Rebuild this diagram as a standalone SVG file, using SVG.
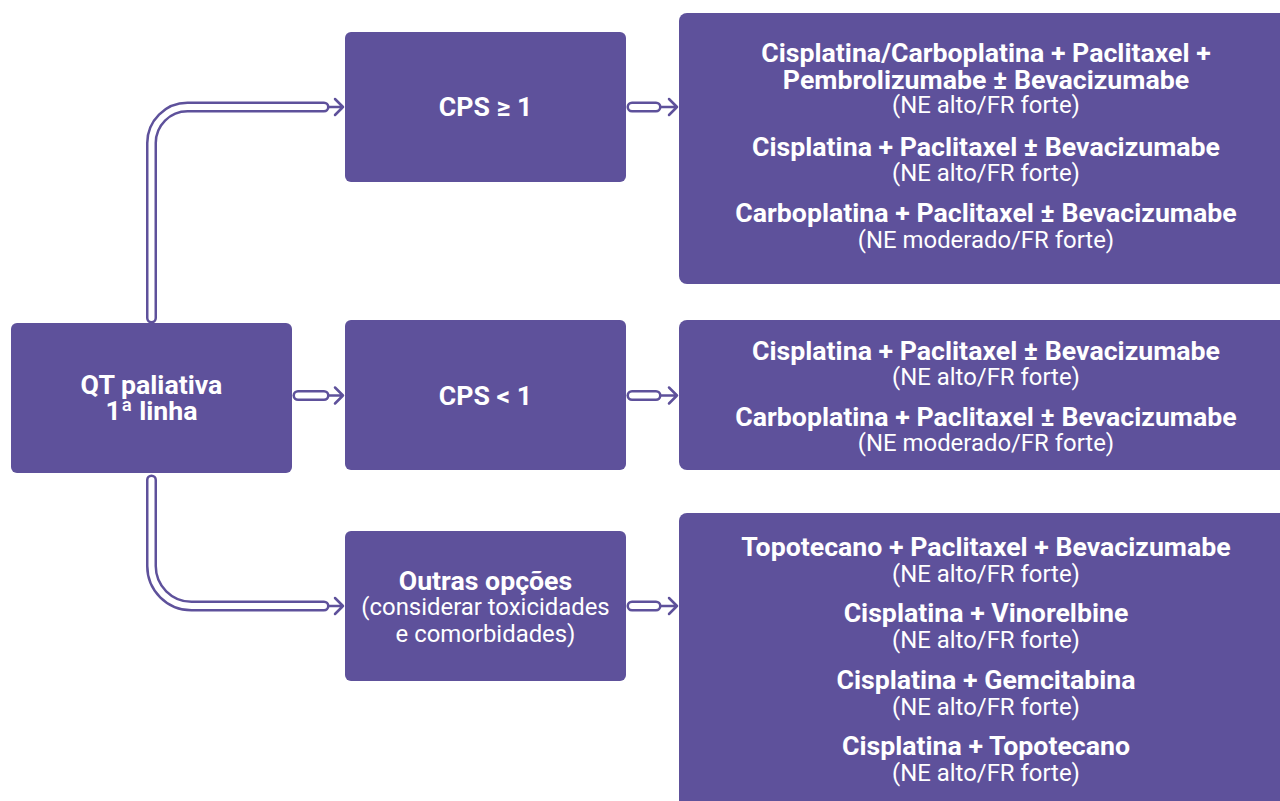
<svg xmlns="http://www.w3.org/2000/svg" width="1280" height="801" viewBox="0 0 1280 801">
<style>
.box{fill:#5e519b}
.b{font-family:Roboto,"Liberation Sans",sans-serif;font-weight:bold;font-size:26.7px;fill:#fff;text-anchor:middle}
.r{font-family:Roboto,"Liberation Sans",sans-serif;font-size:23.9px;fill:#fff;text-anchor:middle}
.tubeo{fill:none;stroke:#5e519b;stroke-width:11;stroke-linecap:round;stroke-linejoin:round}
.tubei{fill:none;stroke:#fff;stroke-width:6;stroke-linecap:round;stroke-linejoin:round}
.arr{fill:none;stroke:#5e519b;stroke-width:2.5;stroke-linecap:round;stroke-linejoin:round}
</style>
<rect width="1280" height="801" fill="#fff"/>
<g id="connectors">
<g id="c1"><path class="tubeo" d="M151.5,318 V143 A36,36 0 0 1 187.5,107 H324"/><path class="tubei" d="M151.5,318 V143 A36,36 0 0 1 187.5,107 H324"/><path class="arr" d="M329,107 H343 M335,99 L343,107 L335,115"/></g>
<g id="c2"><path class="tubeo" d="M298,395.5 H324"/><path class="tubei" d="M298,395.5 H324"/><path class="arr" d="M329,395.5 H343 M335,387.5 L343,395.5 L335,403.5"/></g>
<g id="c3"><path class="tubeo" d="M151.5,480 V566 A40,40 0 0 0 191.5,606 H324"/><path class="tubei" d="M151.5,480 V566 A40,40 0 0 0 191.5,606 H324"/><path class="arr" d="M329,606 H343 M335,598 L343,606 L335,614"/></g>
<g id="c4"><path class="tubeo" d="M632,107 H656"/><path class="tubei" d="M632,107 H656"/><path class="arr" d="M661,107 H677 M669,99 L677,107 L669,115"/></g>
<g id="c5"><path class="tubeo" d="M632,395.5 H656"/><path class="tubei" d="M632,395.5 H656"/><path class="arr" d="M661,395.5 H677 M669,387.5 L677,395.5 L669,403.5"/></g>
<g id="c6"><path class="tubeo" d="M632,606 H656"/><path class="tubei" d="M632,606 H656"/><path class="arr" d="M661,606 H677 M669,598 L677,606 L669,614"/></g>
</g>
<g id="qt"><rect class="box" x="11" y="323" width="281" height="150" rx="6"/><text class="b" x="151.5" y="394">QT paliativa</text><text class="b" x="151.5" y="420">1ª linha</text></g>
<g id="cps1"><rect class="box" x="345" y="32" width="281" height="150" rx="6"/><text class="b" x="485.5" y="116">CPS ≥ 1</text></g>
<g id="cps0"><rect class="box" x="345" y="320" width="281" height="150" rx="6"/><text class="b" x="485.5" y="405">CPS &lt; 1</text></g>
<g id="outras"><rect class="box" x="345" y="531" width="281" height="150" rx="6"/><text class="b" x="485.5" y="590">Outras opções</text><text class="r" x="485.5" y="615">(considerar toxicidades</text><text class="r" x="485.5" y="642">e comorbidades)</text></g>
<g id="r1"><rect class="box" x="679" y="13" width="611" height="271" rx="8"/>
<text class="b" x="986" y="62">Cisplatina/Carboplatina + Paclitaxel +</text>
<text class="b" x="986" y="89">Pembrolizumabe ± Bevacizumabe</text>
<text class="r" x="986" y="113">(NE alto/FR forte)</text>
<text class="b" x="986" y="156">Cisplatina + Paclitaxel ± Bevacizumabe</text>
<text class="r" x="986" y="181">(NE alto/FR forte)</text>
<text class="b" x="986" y="222">Carboplatina + Paclitaxel ± Bevacizumabe</text>
<text class="r" x="986" y="248">(NE moderado/FR forte)</text></g>
<g id="r2"><rect class="box" x="679" y="320" width="611" height="150" rx="8"/>
<text class="b" x="986" y="360">Cisplatina + Paclitaxel ± Bevacizumabe</text>
<text class="r" x="986" y="385">(NE alto/FR forte)</text>
<text class="b" x="986" y="426">Carboplatina + Paclitaxel ± Bevacizumabe</text>
<text class="r" x="986" y="451">(NE moderado/FR forte)</text></g>
<g id="r3"><rect class="box" x="679" y="513" width="611" height="300" rx="8"/>
<text class="b" x="986" y="556">Topotecano + Paclitaxel + Bevacizumabe</text>
<text class="r" x="986" y="582">(NE alto/FR forte)</text>
<text class="b" x="986" y="622">Cisplatina + Vinorelbine</text>
<text class="r" x="986" y="648">(NE alto/FR forte)</text>
<text class="b" x="986" y="689">Cisplatina + Gemcitabina</text>
<text class="r" x="986" y="715">(NE alto/FR forte)</text>
<text class="b" x="986" y="755">Cisplatina + Topotecano</text>
<text class="r" x="986" y="781">(NE alto/FR forte)</text></g>
</svg>
